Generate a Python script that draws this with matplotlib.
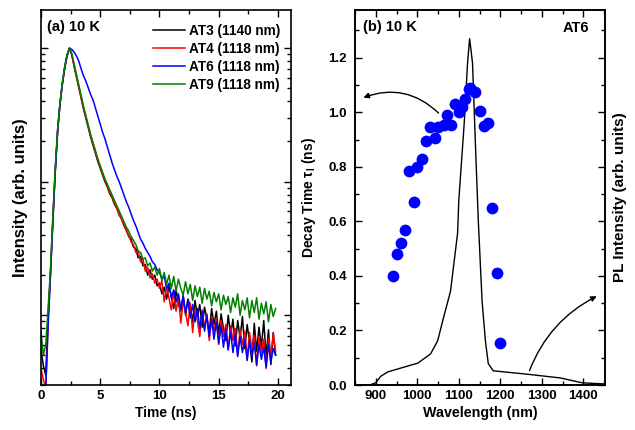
import numpy as np
import matplotlib
matplotlib.use("Agg")
import matplotlib.pyplot as plt
from matplotlib.ticker import MultipleLocator, LogLocator, NullFormatter

plt.rcParams['font.family'] = ['Liberation Sans', 'DejaVu Sans']
plt.rcParams['font.weight'] = 'bold'
plt.rcParams['axes.labelweight'] = 'bold'
plt.rcParams['font.size'] = 9.5
plt.rcParams['mathtext.default'] = 'regular'

# ---------------- Panel (a): decay curves (log10 of normalized intensity) ----------------
time_ns = [round(0.2 * i, 1) for i in range(100)]

log_at3 = [-2.25, -2.38, -2.45, -2.00, -1.68, -1.28, -0.92, -0.62, -0.42, -0.27,
           -0.15, -0.06, 0.00, -0.05, -0.14, -0.22, -0.30, -0.38, -0.46, -0.53,
           -0.60, -0.67, -0.73, -0.79, -0.85, -0.90, -0.95, -1.00, -1.04, -1.09,
           -1.12, -1.17, -1.20, -1.25, -1.28, -1.33, -1.36, -1.41, -1.43, -1.49,
           -1.50, -1.57, -1.56, -1.63, -1.62, -1.70, -1.66, -1.73, -1.70, -1.78,
           -1.76, -1.84, -1.79, -1.88, -1.78, -1.86, -1.95, -1.81, -1.92, -1.97,
           -1.85, -2.00, -1.88, -1.93, -2.05, -1.89, -2.01, -1.92, -2.09, -1.94,
           -2.03, -2.13, -1.95, -2.07, -1.97, -2.14, -1.99, -2.10, -2.19, -2.00,
           -2.15, -2.03, -2.23, -2.04, -2.17, -2.01, -2.25, -2.07, -2.20, -2.35,
           -2.06, -2.27, -2.09, -2.24, -2.04, -2.31, -2.11, -2.37, -2.13, -2.30]

log_at4 = [-2.40, -2.48, -2.55, -2.05, -1.70, -1.30, -0.93, -0.63, -0.42, -0.27,
           -0.15, -0.06, 0.00, -0.05, -0.13, -0.21, -0.29, -0.37, -0.45, -0.52,
           -0.59, -0.66, -0.72, -0.78, -0.84, -0.89, -0.94, -0.99, -1.03, -1.08,
           -1.11, -1.16, -1.20, -1.24, -1.28, -1.32, -1.37, -1.40, -1.45, -1.47,
           -1.53, -1.52, -1.60, -1.58, -1.67, -1.64, -1.72, -1.69, -1.76, -1.73,
           -1.80, -1.74, -1.90, -1.79, -1.87, -1.96, -1.82, -1.97, -1.86, -2.06,
           -1.89, -1.98, -2.08, -1.91, -2.13, -1.95, -2.04, -2.16, -1.96, -2.10,
           -1.99, -2.19, -2.01, -2.12, -2.03, -2.22, -2.04, -2.16, -2.07, -2.26,
           -2.08, -2.19, -2.10, -2.30, -2.11, -2.22, -2.12, -2.33, -2.13, -2.25,
           -2.15, -2.38, -2.16, -2.28, -2.18, -2.40, -2.17, -2.32, -2.14, -2.27]

log_at6 = [-2.70, -2.65, -2.55, -2.08, -1.70, -1.30, -0.93, -0.63, -0.42, -0.27,
           -0.14, -0.05, 0.00, -0.01, -0.03, -0.06, -0.10, -0.16, -0.21, -0.25,
           -0.30, -0.35, -0.39, -0.45, -0.51, -0.57, -0.63, -0.68, -0.74, -0.80,
           -0.86, -0.91, -0.96, -1.00, -1.05, -1.10, -1.15, -1.19, -1.24, -1.29,
           -1.33, -1.38, -1.43, -1.46, -1.50, -1.53, -1.56, -1.60, -1.62, -1.66,
           -1.68, -1.73, -1.71, -1.80, -1.76, -1.87, -1.81, -1.90, -1.84, -1.95,
           -1.86, -1.98, -1.89, -2.02, -1.92, -2.05, -1.95, -2.10, -1.97, -2.12,
           -2.00, -2.16, -2.03, -2.18, -2.05, -2.21, -2.08, -2.24, -2.10, -2.26,
           -2.12, -2.28, -2.14, -2.31, -2.16, -2.28, -2.18, -2.34, -2.19, -2.31,
           -2.21, -2.37, -2.22, -2.33, -2.24, -2.39, -2.22, -2.35, -2.25, -2.30]

log_at9 = [-2.12, -2.30, -2.22, -1.95, -1.66, -1.26, -0.90, -0.61, -0.41, -0.26,
           -0.14, -0.05, 0.00, -0.04, -0.12, -0.20, -0.28, -0.36, -0.44, -0.51,
           -0.58, -0.65, -0.71, -0.77, -0.83, -0.88, -0.93, -0.98, -1.02, -1.06,
           -1.10, -1.14, -1.18, -1.22, -1.26, -1.30, -1.34, -1.37, -1.41, -1.44,
           -1.47, -1.52, -1.53, -1.58, -1.57, -1.63, -1.61, -1.67, -1.64, -1.70,
           -1.65, -1.74, -1.68, -1.77, -1.70, -1.80, -1.71, -1.82, -1.73, -1.80,
           -1.85, -1.75, -1.84, -1.77, -1.89, -1.78, -1.86, -1.79, -1.91, -1.80,
           -1.88, -1.82, -1.93, -1.83, -1.90, -1.84, -1.96, -1.85, -1.92, -1.86,
           -1.98, -1.87, -1.94, -1.84, -2.00, -1.89, -1.96, -1.87, -2.02, -1.89,
           -1.98, -1.87, -2.03, -1.91, -1.99, -1.90, -2.05, -1.92, -2.01, -1.95]

series_labels = ['AT3 (1140 nm)', 'AT4 (1118 nm)', 'AT6 (1118 nm)', 'AT9 (1118 nm)']
series_colors = ['black', '#ff0000', '#0000ff', '#008000']

# ---------------- Panel (b): PL spectrum and decay times ----------------
pl_wavelength = [885, 900, 912, 929, 960, 1001, 1032, 1049, 1063, 1080, 1097, 1100,
                 1113, 1121, 1126, 1133, 1141, 1147, 1156, 1164, 1171, 1183, 1262,
                 1344, 1397, 1450]
pl_intensity = [0.00, 0.04, 0.16, 0.24, 0.31, 0.40, 0.57, 0.81, 1.23, 1.72, 2.78, 3.39,
                4.80, 5.90, 6.35, 5.90, 4.20, 3.00, 1.54, 0.81, 0.39, 0.26, 0.20,
                0.13, 0.04, 0.02]

tau_wavelength = [941, 951, 960, 970, 980, 991, 1000, 1011, 1021, 1030, 1042, 1050,
                  1064, 1071, 1080, 1090, 1100, 1104, 1108, 1116, 1124, 1128, 1140,
                  1152, 1160, 1170, 1181, 1191, 1200]
tau_ns = [0.40, 0.48, 0.52, 0.57, 0.785, 0.67, 0.80, 0.83, 0.895, 0.945, 0.905, 0.945,
          0.955, 0.99, 0.955, 1.03, 1.00, 1.02, 1.02, 1.05, 1.085, 1.09, 1.075,
          1.005, 0.95, 0.96, 0.65, 0.41, 0.155]

fig = plt.figure(figsize=(6.35, 4.30), dpi=100)

# ---- panel (a)
axa = fig.add_axes([41/635, 1 - 385/430, 250/635, 375/430])
for logs, lab, col in zip([log_at3, log_at4, log_at6, log_at9], series_labels, series_colors):
    axa.plot(time_ns, [10 ** v for v in logs], color=col, lw=1.1, label=lab)
axa.set_yscale('log')
axa.set_xlim(0, 21.1)
axa.set_ylim(0.003, 1.93)
axa.xaxis.set_major_locator(MultipleLocator(5))
axa.xaxis.set_minor_locator(MultipleLocator(2.5))
axa.yaxis.set_major_locator(LogLocator(base=10))
axa.yaxis.set_minor_locator(LogLocator(base=10, subs=np.arange(2, 10)))
axa.yaxis.set_major_formatter(NullFormatter())
axa.yaxis.set_minor_formatter(NullFormatter())
axa.tick_params(which='both', direction='in', top=True, right=True, width=1.0)
axa.tick_params(which='major', length=5, labelsize=9.5)
axa.tick_params(which='minor', length=3)
axa.set_xlabel('Time (ns)', fontsize=10, labelpad=3)
axa.set_ylabel('Intensity (arb. units)', fontsize=12, labelpad=6)
leg = axa.legend(loc='upper right', frameon=False, fontsize=9.8, handlelength=2.4,
                 handletextpad=0.25, labelspacing=0.28, borderaxespad=0.0,
                 bbox_to_anchor=(0.978, 0.977))
axa.text(0.024, 0.972, '(a) 10 K', transform=axa.transAxes, ha='left', va='top',
         fontsize=10.5, fontweight='bold')
for s in axa.spines.values():
    s.set_linewidth(1.2)

# ---- panel (b)
axb = fig.add_axes([355/635, 1 - 385/430, 250/635, 375/430])
axb.scatter(tau_wavelength, tau_ns, s=72, color='#0000ff', zorder=3, linewidths=0)
axb.set_xlim(850, 1452)
axb.set_ylim(0, 1.375)
axb.xaxis.set_major_locator(MultipleLocator(100))
axb.xaxis.set_minor_locator(MultipleLocator(50))
axb.yaxis.set_major_locator(MultipleLocator(0.2))
axb.yaxis.set_minor_locator(MultipleLocator(0.1))
axb.tick_params(which='both', direction='in', top=True, right=False, width=1.0)
axb.tick_params(which='major', length=5, labelsize=9.5)
axb.tick_params(which='minor', length=3)
axb.tick_params(axis='y', which='major', pad=6)
axb.set_xlabel('Wavelength (nm)', fontsize=10.3, labelpad=3)
axb.set_ylabel(r'Decay Time $\tau_\mathregular{I}$ (ns)', fontsize=10, labelpad=7)
axb.text(0.032, 0.972, '(b) 10 K', transform=axb.transAxes, ha='left', va='top',
         fontsize=10.5, fontweight='bold')
axb.text(0.936, 0.972, 'AT6', transform=axb.transAxes, ha='right', va='top',
         fontsize=10.5, fontweight='bold')

axr = axb.twinx()
axr.plot(pl_wavelength, pl_intensity, color='black', lw=1.0, zorder=2)
axr.set_ylim(0, 6.875)
axr.yaxis.set_major_locator(MultipleLocator(1))
axr.yaxis.set_minor_locator(MultipleLocator(0.5))
axr.yaxis.set_major_formatter(NullFormatter())
axr.tick_params(which='both', direction='in', width=1.0)
axr.tick_params(which='major', length=5)
axr.tick_params(which='minor', length=3)
axr.set_ylabel('PL Intensity (arb. units)', fontsize=11, labelpad=2)
axb.set_zorder(axr.get_zorder() + 1)
axb.patch.set_visible(False)

axb.annotate('', xy=(864, 1.05), xytext=(1056, 0.99),
             arrowprops=dict(arrowstyle='-|>', color='black', lw=1.0,
                             mutation_scale=8, connectionstyle='arc3,rad=0.33'))
axb.annotate('', xy=(1438, 0.33), xytext=(1268, 0.044),
             arrowprops=dict(arrowstyle='-|>', color='black', lw=1.0,
                             mutation_scale=8, connectionstyle='arc3,rad=-0.2'))
for a in (axb, axr):
    for s in a.spines.values():
        s.set_linewidth(1.2)

fig.savefig('out.png', dpi=100)
